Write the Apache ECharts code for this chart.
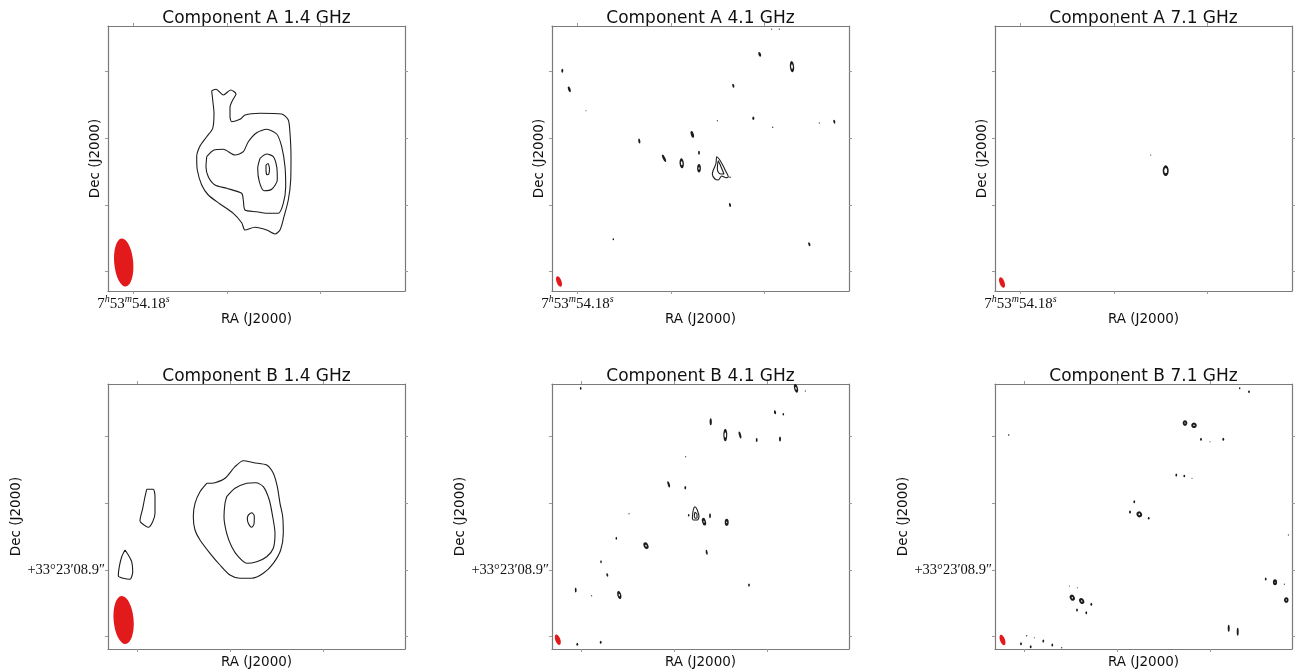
<!DOCTYPE html>
<html>
<head>
<meta charset="utf-8">
<script src="https://cdn.jsdelivr.net/npm/echarts@6/dist/echarts.min.js"></script>
<style>
html,body{margin:0;padding:0;background:#fff;}
#chart{width:1298px;height:672px;}
</style>
</head>
<body>
<div id="chart"></div>
<script>
// ---------- panel meta ----------
const panelTitles = ['Component A 1.4 GHz','Component A 4.1 GHz','Component A 7.1 GHz',
                     'Component B 1.4 GHz','Component B 4.1 GHz','Component B 7.1 GHz'];
const xAxisName = 'RA (J2000)';
const yAxisName = 'Dec (J2000)';
// map extent (offset units) for every panel
const xExtent = [0, 297];
const yExtent = [0, 265];
// tick positions (offset units)
const xTicksA = [25.5, 118.8, 212.1];
const xTicksB = [29, 122.3, 215.6];
const yTicksA = [19.3, 86, 152.7, 219.4];
const yTicksB = [12.3, 79, 145.7, 212.4];
// tick labels
const raTickLabel = ['7', 'h', '53', 'm', '54.18', 's'];
const decTickLabel = '+33°23′08.9″';

// ---------- Component A 1.4 GHz contours ----------
const contA14_outer = [[103.7,200.3],[108,201.7],[115.3,196],[122.7,201],[128,197],[124.7,191],[122,183.7],[122,174.3],[123.7,169.3],[132,171.7],[137,176],[152,177.7],[173.7,177],[180.3,171],[182,157.7],[183,134.3],[182.7,111],[180.3,91],[176,74.3],[172,61],[167,57],[158.7,61],[147,63.7],[137,61],[133.7,68.3],[125.3,77.7],[112,87],[100.3,96],[93.7,106],[89.3,121],[88.7,134.3],[92,145],[98.7,154.3],[104.7,162.7],[106,177.7],[104.7,191]];
const contA14_mid = [[98.7,134.3],[106,141],[115.3,141.7],[127,136],[135.3,139.3],[140.3,149.3],[148.7,158.3],[158.7,161.7],[168.7,157],[173.7,144.3],[177,124.3],[177.7,104.3],[175.3,87.7],[170.3,77.7],[158.7,77.7],[148.7,79.3],[137,81],[135.3,91],[133.7,97.7],[118.7,102.7],[107,106],[100.3,114.3],[98,124.3]];
const contA14_inner = [[152,132.7],[158.7,137],[165.3,134.3],[168.7,124.3],[169.3,111],[163.7,101.7],[156,100.3],[151.3,109.3],[149.7,122.7]];
const contA14_core = [[158,126],[160,127.5],[161.5,122],[160.8,117],[159,116.3],[158,121]];

// ---------- Component A 4.1 GHz ----------
const contA41_outer = [[161.3,121],[164,127.7],[164.7,134.3],[167.3,131.7],[170.7,126],[174,119.3],[176.3,114.3],[174,113.3],[169.7,115],[166.3,111],[163,112],[160.3,117]];
const contA41_inner = [[165.3,122.7],[166.3,130.3],[169,124.3],[172,117],[168.7,117],[166,119.3]];
// compact sources: [x, y, width, height, tilt]
const blobsA41 = [[10.3,220.3,2,4,0],[17.3,201.7,2.5,6,20],[34,180.3,1,1,0],[87.3,150,2,5,10],[112,132.7,2.5,8,25],[140.3,156.7,3,7,15],[147,138.3,1.8,4,0],[178,113.7,1.5,1.5,0],[165.3,170.3,1,1.5,0],[181.3,205.3,2,4,15],[178,86,2,4,10],[201.3,172.7,2,3.5,0],[207.7,236.7,2.5,5,20],[220.7,163.7,1.2,1.5,0],[219.7,261.7,1,1.5,0],[227.3,261.7,1,1.5,0],[267.3,168,1,1.5,0],[282.3,169.3,2,4,10],[257.3,46.7,2,4,15],[61.3,51.7,1.5,2,0]];
const ringsA41 = [[129.7,127.7,3,7,5],[147,122.7,2.5,5.5,0],[240,224.3,3,8,5]];

// ---------- Component A 7.1 GHz ----------
const blobsA71 = [[155.7,136,1.2,1.2,0]];
const ringsA71 = [[170.7,120.3,4.5,8,0]];

// ---------- Component B 1.4 GHz ----------
const contB14_outer = [[98.7,165.7],[107,166.3],[117,170.7],[127,182.3],[135.3,188.3],[146,186.3],[158.7,184],[165.3,175.7],[169.3,162.3],[172,145.7],[174.7,132.3],[175.3,115.7],[172.7,99],[165.3,85.7],[155.3,75.7],[143.7,70.7],[132,70.7],[122,74],[112,84],[102,95.7],[92,109],[87,119],[85.3,132.3],[87,145.7],[92,157.3]];
const contB14_mid = [[118.7,152.3],[127,160.7],[138.7,165.7],[148,166.3],[155.3,162.3],[161.3,149],[164.7,132.3],[167,115.7],[165.3,100.7],[158.7,92.3],[148.7,87.3],[138.7,85.7],[130.3,92.3],[123.7,102.3],[118.7,115.7],[116,132.3],[117,145.7]];
const contB14_inner = [[140.3,134],[143.7,136.3],[146.3,133],[146,125],[143.7,121.7],[140.3,125.7],[139.3,130.7]];
const contB14_west1 = [[38.7,159.7],[45.3,159.7],[47,152.3],[47,135.7],[44.7,127.3],[40.3,121.7],[33.7,125.7],[32,128.3],[34.7,140.7],[37,152.3]];
const contB14_west2 = [[17,99],[20.3,94],[23.7,87.3],[24.7,77.3],[22,69.7],[15.3,70.7],[10.3,73],[11.3,82.3],[13.7,92.3]];

// ---------- Component B 4.1 GHz ----------
const contB41_outer = [[140.3,130.7],[141.3,139],[143,142.3],[145.3,139],[147,132.3],[145.3,129],[141.3,129]];
const contB41_inner = [[142.3,132.3],[143,136.7],[145,134.7],[145,131.3],[143.3,130.7]];
const blobsB41 = [[28.7,260.7,1.5,3,0],[253.3,258,1,1.5,0],[223,236.7,2,4,10],[231.3,234.7,1.5,2.5,0],[158.7,227.3,2.2,7,0],[188,214,2.2,7,15],[204.7,209,1.8,4,0],[228,210,2,5,0],[133.7,192.3,1,1.5,0],[116.7,164.7,2.2,6.5,15],[133.3,161.3,1.8,3.5,0],[136.7,133.7,1.5,2.5,0],[158,133.3,1.8,5,0],[77,135.3,1,1.5,0],[64.3,110.7,1.5,3,0],[154.7,96.7,1.8,5,10],[49,87.3,1.5,3,0],[55.3,74,1.8,3.5,15],[23.7,59,1.8,5,0],[39.7,53.3,1,1.5,0],[197,64,1.8,3,0],[25.3,4.7,1.8,3,0],[48.7,6.7,1.8,3,0]];
const ringsB41 = [[244,260.7,2.5,6,15],[173.3,214,2.8,9,0],[152,127.3,2.5,5,15],[174.7,126.7,2.5,4.5,0],[94,103.3,3,4.5,25],[67.3,54,2.5,5.5,15]];

// ---------- Component B 7.1 GHz ----------
const blobsB71 = [[13.7,214,1.5,1.5,0],[244.7,260.7,1.5,2,0],[254,257.3,1.8,2.5,0],[206,209.7,1.8,3,0],[215,207.3,1,1,0],[228.3,209.7,1.8,3,0],[181.3,174,1.8,3,0],[189.3,173,1.8,2.5,0],[197,170.7,1,1,0],[139.3,147.3,1.8,3,0],[135,137,2,3,0],[153.7,130.7,1.8,2.5,0],[293.3,114,1,1.5,0],[270.7,70,1.8,3,0],[289.3,64.7,1,1.5,0],[74.3,63,1,1,0],[82.3,61.3,1,1,0],[96.3,44.7,1.8,3,0],[82,39,1.8,3,0],[91.3,36.3,1.8,3,0],[233.7,20.7,2,7,0],[242.7,17.3,2,8,0],[31.7,13.3,1.2,1.5,0],[39.3,11.3,1,1,0],[26,5.3,1.8,3,0],[35.7,2.3,1.8,3,0],[48.3,8,1.8,3,0],[57.3,4,1.8,3,0],[66.7,1.3,1.2,1.5,0]];
const ringsB71 = [[190,226,2.8,3.5,0],[199,223.7,3.5,3.5,30],[144.3,134.7,3.5,4,30],[280,66.7,2.5,3.5,0],[291.3,49,2.8,3.5,0],[77.3,51.3,3,4,30],[86.7,48,3,4,30]];

// ---------- restoring beams: [x, y, width, height, tilt] ----------
const beams = [[15.7,28.5,19,48,5],[7,9.5,5,11,20],[7,8.5,5,11,20],[15.6,29,20,48,5],[5.8,9.3,5,11,20],[7.5,9,5,11,20]];

const panelContours = [
  [contA14_outer, contA14_mid, contA14_inner, contA14_core],
  [contA41_outer, contA41_inner],
  [],
  [contB14_outer, contB14_mid, contB14_inner, contB14_west1, contB14_west2],
  [contB41_outer, contB41_inner],
  []
];
const panelBlobs = [[], blobsA41, blobsA71, [], blobsB41, blobsB71];
const panelRings = [[], ringsA41, ringsA71, [], ringsB41, ringsB71];

// ---------- layout ----------
const gridLefts = [108, 552, 995];
const gridTops = [26, 384];
const gridW = 297, gridH = 265;

const grids = [], xAxes = [], yAxes = [], series = [];
const boxColor = '#7a7a7a';
const tickStyle = {color: '#9a9a9a', width: 1};
const sans = 'DejaVu Sans';
const serif = 'Liberation Serif';

for (let i = 0; i < 6; i++) {
  const row = Math.floor(i / 3), col = i % 3;
  const xt = row === 0 ? xTicksA : xTicksB;
  const yt = row === 0 ? yTicksA : yTicksB;
  grids.push({left: gridLefts[col], top: gridTops[row], width: gridW, height: gridH,
              containLabel: false, outerBoundsMode: 'none', show: false});
  // bottom x
  xAxes.push({
    type: 'value', gridIndex: i, min: xExtent[0], max: xExtent[1], position: 'bottom',
    axisLine: {show: true, onZero: false, lineStyle: {color: boxColor, width: 1.2}},
    axisTick: {show: true, customValues: xt, length: 3, lineStyle: tickStyle},
    axisLabel: row === 0 ? {
      show: true, customValues: [xt[0]], margin: 3,
      formatter: () => `{n|${raTickLabel[0]}}{s|${raTickLabel[1]}}{n|${raTickLabel[2]}}{s|${raTickLabel[3]}}{n|${raTickLabel[4]}}{s|${raTickLabel[5]}}`,
      rich: {
        n: {fontFamily: serif, fontSize: 15, color: '#111', lineHeight: 18, verticalAlign: 'bottom'},
        s: {fontFamily: serif, fontStyle: 'italic', fontSize: 10, color: '#111', lineHeight: 18, verticalAlign: 'top'}
      }
    } : {show: false},
    splitLine: {show: false},
    name: xAxisName, nameLocation: 'middle', nameGap: row === 0 ? 21 : 6,
    nameTextStyle: {fontFamily: sans, fontSize: 13.5, color: '#111'}
  });
  // top x (carries the panel title)
  xAxes.push({
    type: 'value', gridIndex: i, min: xExtent[0], max: xExtent[1], position: 'top',
    axisLine: {show: true, onZero: false, lineStyle: {color: boxColor, width: 1.2}},
    axisTick: {show: true, customValues: xt, length: 3, lineStyle: tickStyle},
    axisLabel: {show: false}, splitLine: {show: false},
    name: panelTitles[i], nameLocation: 'middle', nameGap: -1,
    nameTextStyle: {fontFamily: sans, fontSize: 17, color: '#111'}
  });
  // left y
  yAxes.push({
    type: 'value', gridIndex: i, min: yExtent[0], max: yExtent[1], position: 'left',
    axisLine: {show: true, onZero: false, lineStyle: {color: boxColor, width: 1.2}},
    axisTick: {show: true, customValues: yt, length: 3, lineStyle: tickStyle},
    axisLabel: row === 1 ? {
      show: true, customValues: [yt[1]], margin: 3,
      formatter: () => decTickLabel, fontFamily: serif, fontSize: 14.5, color: '#111'
    } : {show: false},
    splitLine: {show: false},
    name: yAxisName, nameLocation: 'middle', nameRotate: 90, nameGap: row === 0 ? 6 : 85,
    nameTextStyle: {fontFamily: sans, fontSize: 13.5, color: '#111'}
  });
  // right y
  yAxes.push({
    type: 'value', gridIndex: i, min: yExtent[0], max: yExtent[1], position: 'right',
    axisLine: {show: true, onZero: false, lineStyle: {color: boxColor, width: 1.2}},
    axisTick: {show: true, customValues: yt, length: 3, lineStyle: tickStyle},
    axisLabel: {show: false}, splitLine: {show: false}
  });

  const xi = 2 * i, yi = 2 * i;
  panelContours[i].forEach(c => {
    series.push({
      type: 'line', xAxisIndex: xi, yAxisIndex: yi, data: c.concat([c[0]]),
      symbol: 'none', smooth: 0.25, silent: true, z: 3,
      lineStyle: {color: '#1c1c1c', width: 1.1}
    });
  });
  if (panelBlobs[i].length) {
    series.push({
      type: 'scatter', xAxisIndex: xi, yAxisIndex: yi, data: panelBlobs[i],
      symbol: 'circle', silent: true, z: 3,
      symbolSize: v => [v[2], v[3]], symbolRotate: v => v[4],
      itemStyle: {color: '#1c1c1c', opacity: 1}
    });
  }
  if (panelRings[i].length) {
    series.push({
      type: 'scatter', xAxisIndex: xi, yAxisIndex: yi, data: panelRings[i],
      symbol: 'emptyCircle', silent: true, z: 3,
      symbolSize: v => [v[2], v[3]], symbolRotate: v => v[4],
      itemStyle: {color: '#1c1c1c', borderColor: '#1c1c1c', borderWidth: 1, opacity: 1}
    });
  }
  series.push({
    type: 'scatter', xAxisIndex: xi, yAxisIndex: yi, data: [beams[i]],
    symbol: 'circle', silent: true, z: 4,
    symbolSize: v => [v[2], v[3]], symbolRotate: v => v[4],
    itemStyle: {color: '#e31a1c', opacity: 1}
  });
}

const chart = echarts.init(document.getElementById('chart'), null, {renderer: 'canvas'});
chart.setOption({
  animation: false,
  backgroundColor: '#ffffff',
  grid: grids, xAxis: xAxes, yAxis: yAxes, series: series
});
</script>
</body>
</html>
